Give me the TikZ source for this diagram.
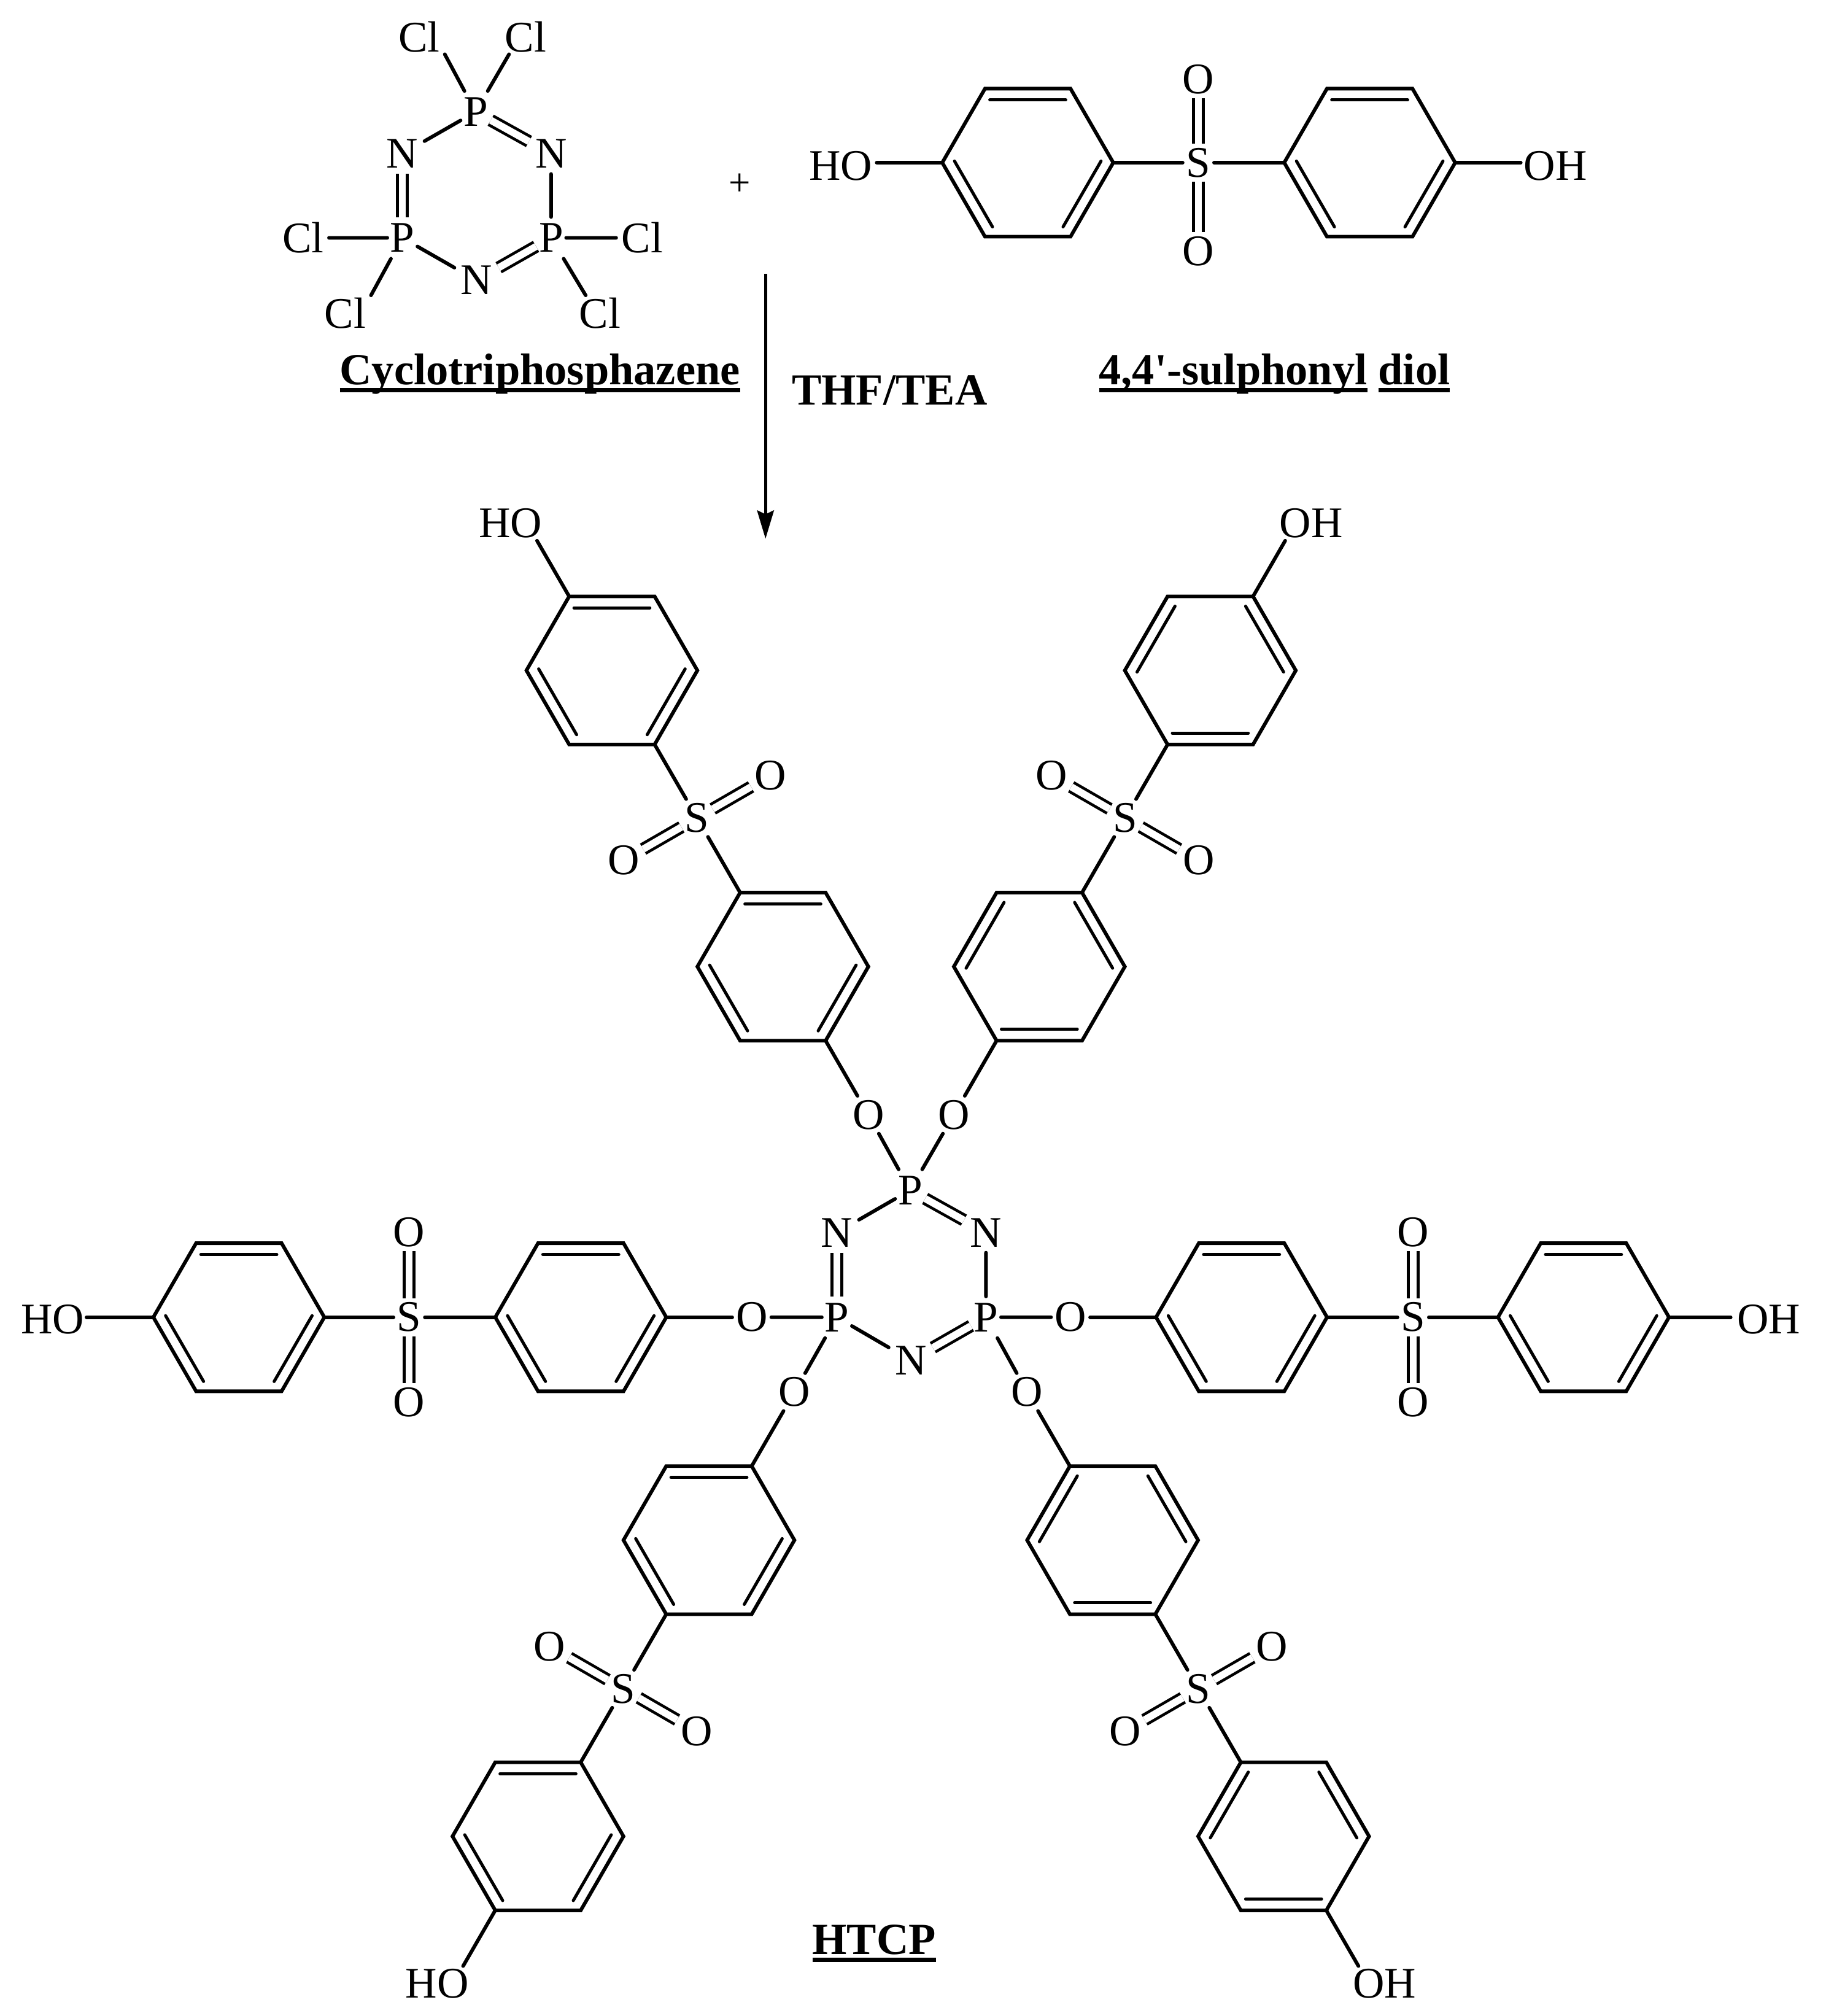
\documentclass[tikz,border=0pt]{standalone}
\usepackage{fontspec}
\setmainfont{Liberation Serif}
\newfontfamily\plainf{Liberation Serif}
\usetikzlibrary{calc,arrows.meta}
\newsavebox\ulbox
\newcommand\ulined[1]{\sbox\ulbox{#1}\usebox\ulbox\llap{\rule[-6pt]{\wd\ulbox}{3.6pt}}}
\def\setA{60,180,300}
\def\setB{0,120,240}
\tikzset{
  bond/.style={line width=2.8pt,line cap=round,line join=miter},
  inbond/.style={line width=2.4pt,line cap=round},
  dbond/.style={line width=2.2pt,double,double distance=5.5pt},
  atomtext/.style={font=\fontsize{34}{38}\selectfont,inner sep=0pt,text=black},
  atomP/.style={atomtext,minimum width=23pt,minimum height=32pt},
  atomN/.style={atomtext,minimum width=34pt,minimum height=31pt},
  atomO/.style={atomtext,minimum width=30pt,minimum height=29pt},
  atomS/.style={atomtext,minimum width=24pt,minimum height=29pt},
  atomCl/.style={atomtext,minimum width=40pt,minimum height=27pt},
  atomOH/.style={atomtext},
  title/.style={font=\plainf\fontsize{34.6}{38}\bfseries\selectfont,inner sep=0pt,anchor=base,text=black},
}
% #1 id, #2 centre coordinate, #3 list of edges carrying the inner line
\newcommand\ringat[3]{%
  \foreach \k in {0,60,120,180,240,300}{\coordinate (#1-\k) at ($(#2)+(-\k:66.5)$);}
  \draw[bond] (#1-0)--(#1-60)--(#1-120)--(#1-180)--(#1-240)--(#1-300)--cycle;
  \foreach \s in #3{\draw[inbond] ($(#2)+(-\s+1.2:57)$)--($(#2)+(-\s-61.2:57)$);}
}
% #1 id, #2 O atom position, #3 screen axis angle, #4 edge set, #5 HO/OH text, #6 its position, #7 free end length
\newcommand\arm[7]{%
  \pgfmathtruncatemacro\far{mod(#3,360)}
  \pgfmathtruncatemacro\near{mod(#3+180,360)}
  \pgfmathtruncatemacro\pa{mod(#3+90,360)}
  \pgfmathtruncatemacro\pb{mod(#3+270,360)}
  \node[atomO] (#1o) at (#2) {O};
  \coordinate (#1c1) at ($(#1o)+(-#3:133)$);
  \coordinate (#1c2) at ($(#1o)+(-#3:399)$);
  \node[atomS] (#1s) at ($(#1o)+(-#3:266.5)$) {S};
  \node[atomO] (#1oa) at ($(#1s)+(-\pa:66)$) {O};
  \node[atomO] (#1ob) at ($(#1s)+(-\pb:66)$) {O};
  \ringat{#1r}{#1c1}{#4}
  \ringat{#1q}{#1c2}{#4}
  \node[atomOH] (#1h) at (#6) {#5};
  \coordinate (#1e) at ($(#1q-\far)+(-#3:#7)$);
  \draw[bond] (#1o)--(#1r-\near);
  \draw[bond] (#1r-\far)--(#1s);
  \draw[bond] (#1s)--(#1q-\near);
  \draw[bond] (#1q-\far)--(#1e);
  \draw[dbond] (#1s)--(#1oa);
  \draw[dbond] (#1s)--(#1ob);
}
\begin{document}
\begin{tikzpicture}[x=1pt,y=-1pt]
\useasboundingbox (0,0) rectangle (1420,1568);
% ---- cyclotriphosphazene
\node[atomP] (pt) at (370,87) {P};
\node[atomN] (nl) at (313,119.6) {N};
\node[atomN] (nr) at (428.7,119.6) {N};
\node[atomP] (pl) at (313,185) {P};
\node[atomP] (pr) at (428.7,185) {P};
\node[atomN] (nb) at (370.7,218) {N};
\node[atomCl] (cl1) at (326,28.5) {Cl};
\node[atomCl] (cl2) at (409,28.5) {Cl};
\node[atomCl] (cl3) at (235.7,185) {Cl};
\node[atomCl] (cl4) at (499.5,185) {Cl};
\node[atomCl] (cl5) at (268.6,243.4) {Cl};
\node[atomCl] (cl6) at (466.6,243.4) {Cl};
\draw[bond] (pt)--(nl) (nr)--(pr) (pl)--(nb);
\draw[dbond] (pt)--(nr);
\draw[dbond] (nl)--(pl);
\draw[dbond] (pr)--(nb);
\coordinate (cb1) at ($(cl1.south)+(20,0)$);
\coordinate (cb2) at ($(cl2.south)+(-13,0)$);
\coordinate (cb5) at ($(cl5.north)+(20,0)$);
\coordinate (cb6) at ($(cl6.north)+(-11,0)$);
\draw[bond] (pt)--(cb1) (pt)--(cb2) (pl)--(cl3) (pr)--(cl4) (pl)--(cb5) (pr)--(cb6);
% ---- plus, arrow
\node[font=\fontsize{30}{32}\selectfont,inner sep=0pt] (plus) at (575.4,143.5) {+};
\coordinate (as) at (595.5,213);
\coordinate (ae) at (595.5,419);
\draw[line width=2.4pt,-{Stealth[length=22pt,width=13pt,inset=3pt]}] (as)--(ae);
% ---- diol
\coordinate (dc1) at (799.5,126.5);
\coordinate (dc2) at (1065.5,126.5);
\ringat{dr}{dc1}{\setA}
\ringat{dq}{dc2}{\setA}
\node[atomS] (ds) at (932.2,126.5) {S};
\node[atomO] (doa) at (932.2,61.7) {O};
\node[atomO] (dob) at (932.2,195.2) {O};
\node[atomOH] (dho) at (654,129) {HO};
\node[atomOH] (doh) at (1210,129) {OH};
\coordinate (de1) at (682,126.5);
\coordinate (de2) at (1183,126.5);
\draw[bond] (de1)--(dr-180) (dr-0)--(ds) (ds)--(dq-180) (dq-0)--(de2);
\draw[dbond] (ds)--(doa);
\draw[dbond] (ds)--(dob);
% ---- titles
\node[title] (t1) at (420,299.3) {\ulined{Cyclotriphosphazene}};
\node[title] (t2) at (692,315) {THF/TEA};
\node[title,anchor=base west] (t3) at (854.7,299.3) {\ulined{4,4'-sulphonyl}};
\node[title,anchor=base west] (t4) at (1072,299.3) {\ulined{diol}};
\node[title] (t5) at (680,1520) {\ulined{HTCP}};
% ---- HTCP core
\node[atomP] (Pt) at (708,925.7) {P};
\node[atomN] (Nl) at (651,958.6) {N};
\node[atomN] (Nr) at (767,958.6) {N};
\node[atomP] (Pl) at (651,1024.5) {P};
\node[atomP] (Pr) at (767,1024.5) {P};
\node[atomN] (Nb) at (708.5,1058) {N};
\draw[bond] (Pt)--(Nl) (Nr)--(Pr) (Pl)--(Nb);
\draw[dbond] (Pt)--(Nr);
\draw[dbond] (Nl)--(Pl);
\draw[dbond] (Pr)--(Nb);
% ---- arms
\arm{aa}{832.8,1024.5}{0}{\setA}{OH}{1376,1026}{48}
\arm{bb}{584.8,1024.5}{180}{\setA}{HO}{41,1026}{52}
\arm{cc}{675.5,867}{120}{\setA}{HO}{397,407}{50}
\arm{dd}{742,867}{60}{\setB}{OH}{1020,407}{50}
\arm{ee}{618,1082.7}{240}{\setA}{HO}{340,1543}{50}
\arm{ff}{799,1082.7}{300}{\setB}{OH}{1077,1543}{50}
\draw[bond] (Pr)--(aao) (Pl)--(bbo) (Pt)--(cco) (Pt)--(ddo) (Pl)--(eeo) (Pr)--(ffo);
\end{tikzpicture}
\end{document}
